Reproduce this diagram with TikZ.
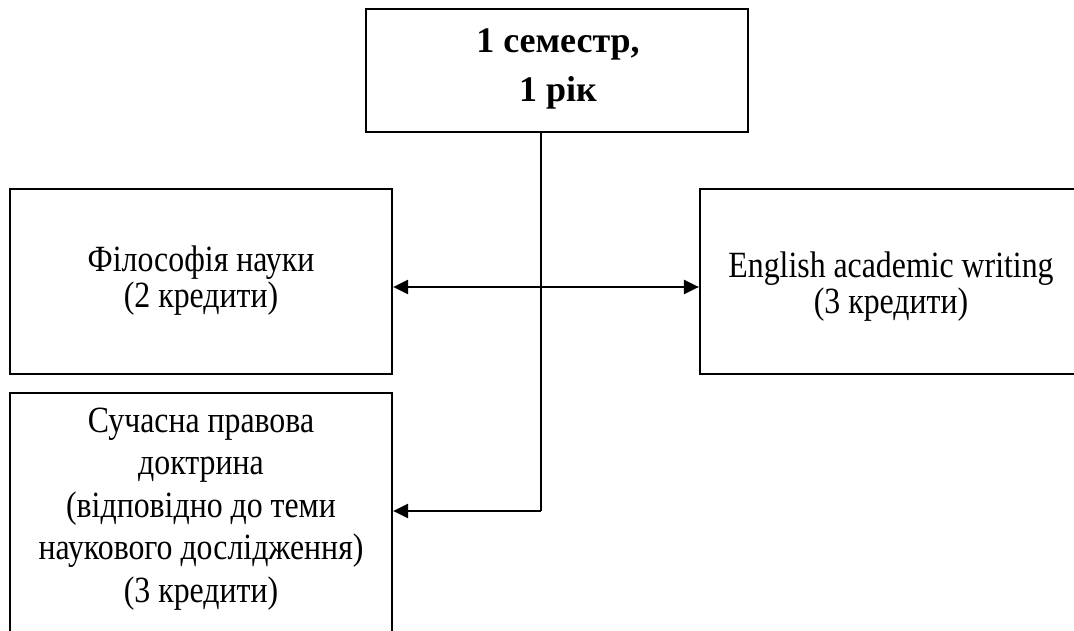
\documentclass[tikz,border=0pt]{standalone}
\usepackage{fontspec}
\setmainfont{Liberation Serif}
\newfontfamily\narrowserif{Liberation Serif}[FakeStretch=0.86]
\usetikzlibrary{arrows.meta}
\tikzset{
  box/.style={draw=black, line width=2.2pt, rectangle, inner sep=0pt, minimum width=382pt},
  txt/.style={anchor=base, align=flush center, text width=380pt, inner sep=0pt},
  conn/.style={draw=black, line width=1.8pt},
  hconn/.style={draw=black, line width=2.5pt},
  tip/.style={-{Triangle[length=15pt,width=14pt]}},
  twotip/.style={{Triangle[length=15pt,width=14pt]}-{Triangle[length=15pt,width=14pt]}}
}
\begin{document}
\begin{tikzpicture}[x=1pt,y=-1pt]
\useasboundingbox (0,0) rectangle (1074,631);
\clip (0,0) rectangle (1074,631);
\fill[white] (0,0) rectangle (1074,631);
% boxes
\node[box, minimum height=123pt] (top) at (557,70.5) {};
\node[box, minimum height=185pt] (phil) at (201,281.5) {};
\node[box, minimum height=185pt] (eng) at (891,281.5) {};
\node[box, minimum height=267pt] (doct) at (201,526.5) {};
% texts
\node[txt, font=\fontsize{36}{49}\selectfont\bfseries] (toptxt) at (558,53) {1 семестр,\\1 рік};
\node[txt, font=\narrowserif\fontsize{37}{36}\selectfont] (philtxt) at (201,272) {Філософія науки\\(2 кредити)};
\node[txt, font=\narrowserif\fontsize{37}{36}\selectfont] (engtxt) at (891,277) {English academic writing\\(3 кредити)};
\node[txt, font=\narrowserif\fontsize{37}{42.5}\selectfont] (docttxt) at (201,432) {Сучасна правова\\доктрина\\(відповідно до теми\\наукового дослідження)\\(3 кредити)};
% connectors
\coordinate (j1) at (541,287);
\coordinate (j2) at (541,511);
\draw[conn] (top.south -| j1) -- (j2);
\draw[hconn, twotip] (phil.east |- j1) -- (eng.west |- j1);
\draw[hconn, tip] (j2) -- (doct.east |- j2);
\end{tikzpicture}
\end{document}
